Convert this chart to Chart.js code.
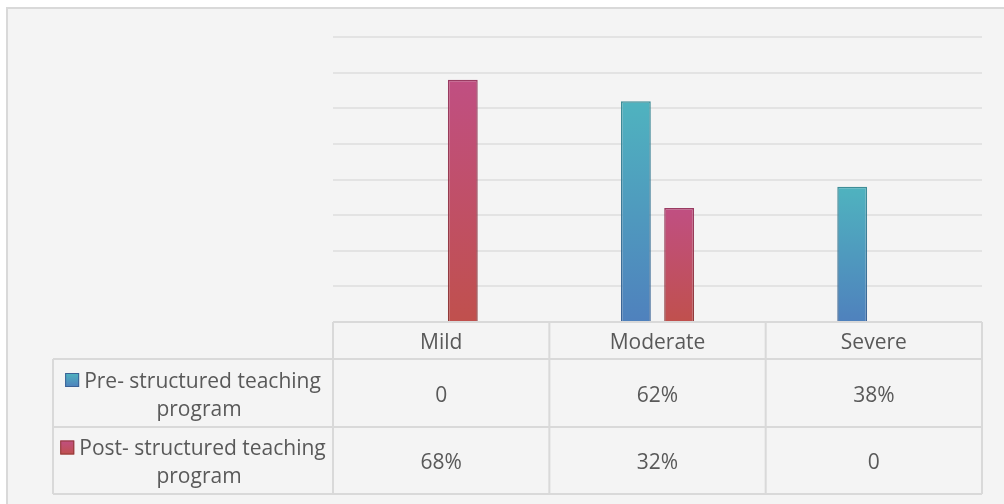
<!DOCTYPE html>
<html>
<head>
<meta charset="utf-8">
<script src="https://cdn.jsdelivr.net/npm/chart.js@4.4.1/dist/chart.umd.min.js"></script>
<style>
  html,body{margin:0;padding:0;background:#fff;}
  #wrap{position:relative;width:1004px;height:504px;}
</style>
</head>
<body>
<div id="wrap"><canvas id="c" width="1004" height="504"></canvas></div>
<script>
// data
const categories = ['Mild','Moderate','Severe'];
const preValues  = [0, 62, 38];
const postValues = [68, 32, 0];
const seriesLabels = [
  ['Pre- structured teaching','program'],
  ['Post- structured teaching','program'],
];
const yMax = 80, yStep = 10;

const FONT = '"Open Sans", sans-serif';
const TXT = '#595959';
const LINE = '#d9d9d9';

// top / bottom colours of each series' gradient
const palette = [
  {top:'#4fb3bf', bot:'#4f81bd', bTop:'#3e8d97', bBot:'#3b6296'},
  {top:'#c04f82', bot:'#c0504d', bTop:'#9a3b62', bBot:'#913a38'},
];

const fmt = v => v===0 ? '0' : v+'%';

function barGrad(ctx, key1, key2){
  const chart = ctx.chart, y = chart.scales.y;
  const p = palette[ctx.datasetIndex];
  if(!y || !chart.chartArea) return p[key1];
  const v = ctx.raw || 0;
  const top = y.getPixelForValue(v), bot = y.getPixelForValue(0);
  if(!(bot-top>0)) return p[key1];
  const g = chart.ctx.createLinearGradient(0, top, 0, bot);
  g.addColorStop(0, p[key1]);
  g.addColorStop(1, p[key2]);
  return g;
}

const frame = {
  id:'frame',
  beforeDraw(chart){
    const c = chart.ctx;
    c.save();
    c.fillStyle = '#fff';
    c.fillRect(0,0,chart.width,chart.height);
    c.fillStyle = '#f4f4f4';
    c.fillRect(8,9,chart.width-8,chart.height-9);
    c.strokeStyle = LINE;
    c.lineWidth = 2;
    c.beginPath();
    c.moveTo(7,chart.height); c.lineTo(7,8); c.lineTo(chart.width,8);
    c.stroke();
    c.restore();
  }
};

// data table under the plot, columns taken from the x scale
const dataTable = {
  id:'dataTable',
  afterDraw(chart){
    const c = chart.ctx, x = chart.scales.x, a = chart.chartArea;
    const colW = (a.right-a.left)/categories.length;
    const legendLeft = 53;
    const hTop = a.bottom, hBot = hTop+37, r1Bot = hBot+68, r2Bot = r1Bot+67;
    c.save();
    c.strokeStyle = LINE;
    c.lineWidth = 2;
    c.beginPath();
    c.moveTo(a.left,hTop); c.lineTo(a.right,hTop);
    [hBot,r1Bot,r2Bot].forEach(yy=>{ c.moveTo(legendLeft,yy); c.lineTo(a.right,yy); });
    c.moveTo(legendLeft,hBot); c.lineTo(legendLeft,r2Bot);
    for(let i=0;i<=categories.length;i++){
      const xx = a.left + i*colW;
      c.moveTo(xx,hTop); c.lineTo(xx,r2Bot);
    }
    c.stroke();

    c.fillStyle = TXT;
    c.font = '21px '+FONT;
    c.textAlign = 'center';
    c.textBaseline = 'middle';
    categories.forEach((cat,i)=>{
      const cx = x.getPixelForValue(i);
      c.fillText(cat, cx, (hTop+hBot)/2+2.5);
      c.fillText(fmt(preValues[i]), cx, (hBot+r1Bot)/2+3);
      c.fillText(fmt(postValues[i]), cx, (r1Bot+r2Bot)/2+3);
    });

    const rows = [[hBot,r1Bot],[r1Bot,r2Bot]];
    seriesLabels.forEach((lines,s)=>{
      const [t,b] = rows[s];
      const mid = (t+b)/2;
      const cellC = (legendLeft+a.left)/2;
      const sw = 14, gap = 5;
      const w1 = c.measureText(lines[0]).width;
      const start = cellC - (sw+gap+w1)/2;
      const y1 = mid-13, y2 = mid+15;
      const p = palette[s];
      const g = c.createLinearGradient(0,y1-7,0,y1+7);
      g.addColorStop(0,p.top); g.addColorStop(1,p.bot);
      c.fillStyle = g;
      c.fillRect(start, y1-7, sw, sw);
      c.strokeStyle = p.bBot; c.lineWidth = 1;
      c.strokeRect(start+0.5, y1-6.5, sw-1, sw-1);
      c.fillStyle = TXT;
      c.textAlign = 'left';
      c.fillText(lines[0], start+sw+gap, y1+2);
      c.textAlign = 'center';
      c.fillText(lines[1], cellC+6, y2+2);
    });
    c.restore();
  }
};

new Chart(document.getElementById('c').getContext('2d'),{
  type:'bar',
  data:{
    labels:categories,
    datasets:[
      {label:seriesLabels[0].join(' '), data:preValues},
      {label:seriesLabels[1].join(' '), data:postValues},
    ].map(d=>({
      ...d,
      backgroundColor:ctx=>barGrad(ctx,'top','bot'),
      borderColor:ctx=>barGrad(ctx,'bTop','bBot'),
      borderWidth:ctx=>ctx.raw ? 1.5 : 0,
      borderSkipped:'bottom',
      categoryPercentage:0.4,
      barPercentage:0.69,
    }))
  },
  options:{
    responsive:false,
    animation:false,
    layout:{padding:{left:333,right:22,top:37,bottom:182}},
    plugins:{legend:{display:false},tooltip:{enabled:false}},
    scales:{
      x:{display:false},
      y:{
        min:0,max:yMax,
        ticks:{display:false,stepSize:yStep},
        grid:{color:'#e3e3e3',lineWidth:2,drawTicks:false},
        border:{display:false},
      }
    }
  },
  plugins:[frame,dataTable]
});
</script>
</body>
</html>
